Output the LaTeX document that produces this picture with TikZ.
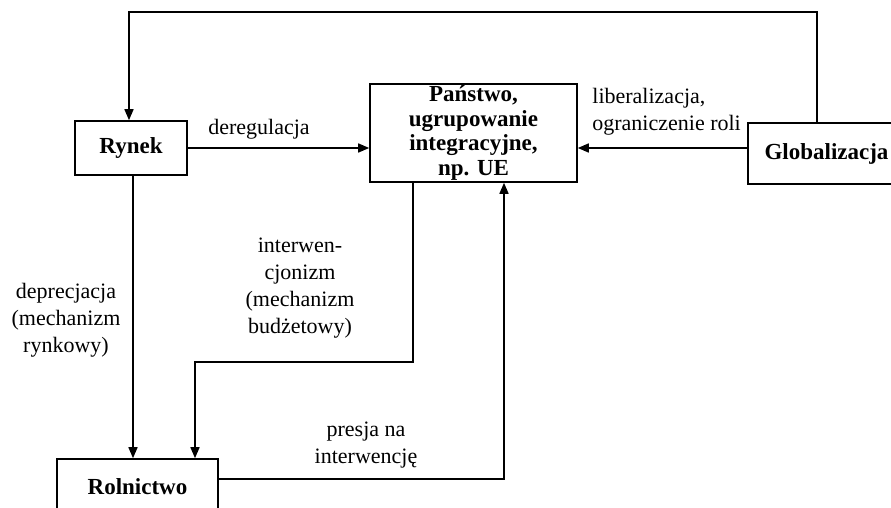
\documentclass[tikz,border=0pt]{standalone}
\usepackage{fontspec}
\setmainfont{Liberation Serif}
\usetikzlibrary{arrows.meta}
\begin{document}
\begin{tikzpicture}[x=0.5pt,y=-0.5pt,
  box/.style={draw,line width=0.8pt,inner sep=0pt,font=\bfseries\fontsize{11.5}{12.3}\selectfont,align=center},
  lab/.style={inner sep=0pt,align=center,font=\fontsize{11}{13.5}\selectfont},
  con/.style={line width=0.8pt},
  arr/.style={con,-{Triangle[length=5.5pt,width=4.5pt]}}]
\useasboundingbox (0,0) rectangle (891,508);
\node[box,minimum width=56pt,minimum height=27pt] (rynek) at (131,148) {Rynek};
\node[box,minimum width=103.5pt,minimum height=49pt] (panstwo) at (473.5,133) {Państwo,\\ugrupowanie\\integracyjne,\\np. UE};
\node[box,minimum width=78.5pt,minimum height=30.5pt] (glob) at (826.5,153.5) {Globalizacja};
\node[box,minimum width=80.5pt,minimum height=28pt] (rol) at (137.5,487) {Rolnictwo};
\coordinate (t1) at (817,12);
\coordinate (t2) at (129,12);
\coordinate (m1) at (413,362);
\coordinate (m2) at (195,362);
\coordinate (p1) at (504,479);
\draw[arr] (glob.north -| t1) -- (t1) -- (t2) -- (rynek.north -| t2);
\draw[arr] (rynek.east) -- (panstwo.west |- rynek.east);
\draw[arr] (glob.west |- rynek.east) -- (panstwo.east |- rynek.east);
\draw[arr] (rynek.south -| 133,0) -- (rol.north -| 133,0);
\draw[arr] (panstwo.south -| m1) -- (m1) -- (m2) -- (rol.north -| m2);
\draw[arr] (rol.east |- p1) -- (p1) -- (panstwo.south -| p1);
\node[lab] (l1) at (259,129) {deregulacja};
\node[lab,align=left,anchor=west] (l2) at (592,112) {liberalizacja,\\ograniczenie roli};
\node[lab] (l3) at (66,320) {deprecjacja\\(mechanizm\\rynkowy)};
\node[lab] (l4) at (300,288) {interwen-\\cjonizm\\(mechanizm\\budżetowy)};
\node[lab] (l5) at (366,445) {presja na\\interwencję};
\end{tikzpicture}
\end{document}
